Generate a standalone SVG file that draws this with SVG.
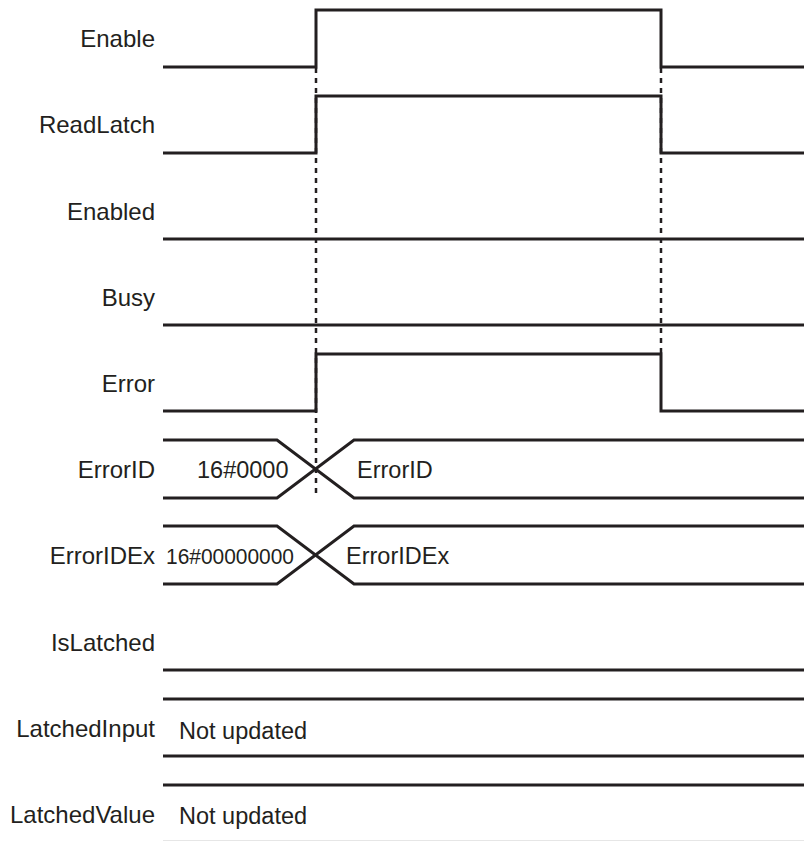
<svg xmlns="http://www.w3.org/2000/svg" width="804" height="841" viewBox="0 0 804 841">
<style>
.lbl{font-family:"Liberation Sans",Arial,sans-serif;font-size:24px;fill:#231f20;text-anchor:end}
.val{font-family:"Liberation Sans",Arial,sans-serif;font-size:23.5px;fill:#231f20}
.sig{fill:none;stroke:#231f20;stroke-width:3;stroke-linejoin:miter}
.dash{fill:none;stroke:#231f20;stroke-width:2.5;stroke-dasharray:5 5}
</style>
<rect width="804" height="841" fill="#fff"/>
<g id="connectors">
<line class="dash" x1="316" y1="68" x2="316" y2="498"/>
<line class="dash" x1="661" y1="68" x2="661" y2="354"/>
</g>
<g id="enable">
<text class="lbl" x="155" y="47">Enable</text>
<polyline class="sig" points="163,67 316,67 316,10 661,10 661,67 804,67"/>
</g>
<g id="readlatch">
<text class="lbl" x="155" y="133">ReadLatch</text>
<polyline class="sig" points="163,153 316,153 316,96 661,96 661,153 804,153"/>
</g>
<g id="enabled">
<text class="lbl" x="155" y="220">Enabled</text>
<line class="sig" x1="163" y1="239" x2="804" y2="239"/>
</g>
<g id="busy">
<text class="lbl" x="155" y="306">Busy</text>
<line class="sig" x1="163" y1="325" x2="804" y2="325"/>
</g>
<g id="error">
<text class="lbl" x="155" y="392">Error</text>
<polyline class="sig" points="163,411 316,411 316,354 661,354 661,411 804,411"/>
</g>
<g id="errorid">
<text class="lbl" x="155" y="478">ErrorID</text>
<polyline class="sig" points="163,440 277,440 354,498 804,498"/>
<polyline class="sig" points="163,498 277,498 354,440 804,440"/>
<text class="val" x="197" y="478">16#0000</text>
<text class="val" x="357" y="478">ErrorID</text>
</g>
<g id="erroridex">
<text class="lbl" x="155" y="564">ErrorIDEx</text>
<polyline class="sig" points="163,526 277,526 354,584 804,584"/>
<polyline class="sig" points="163,584 277,584 354,526 804,526"/>
<text class="val" x="166" y="564" style="font-size:22px" textLength="128" lengthAdjust="spacingAndGlyphs">16#00000000</text>
<text class="val" x="346" y="564">ErrorIDEx</text>
</g>
<g id="islatched">
<text class="lbl" x="155" y="651">IsLatched</text>
<line class="sig" x1="163" y1="670" x2="804" y2="670"/>
</g>
<g id="latchedinput">
<text class="lbl" x="155" y="737">LatchedInput</text>
<line class="sig" x1="163" y1="699" x2="804" y2="699"/>
<line class="sig" x1="163" y1="756" x2="804" y2="756"/>
<text class="val" x="179" y="739">Not updated</text>
</g>
<g id="latchedvalue">
<text class="lbl" x="155" y="823">LatchedValue</text>
<line class="sig" x1="163" y1="785" x2="804" y2="785"/>
<line x1="163" y1="840.5" x2="804" y2="840.5" stroke="#e6e6e6" stroke-width="1"/>
<text class="val" x="179" y="824">Not updated</text>
</g>
</svg>
